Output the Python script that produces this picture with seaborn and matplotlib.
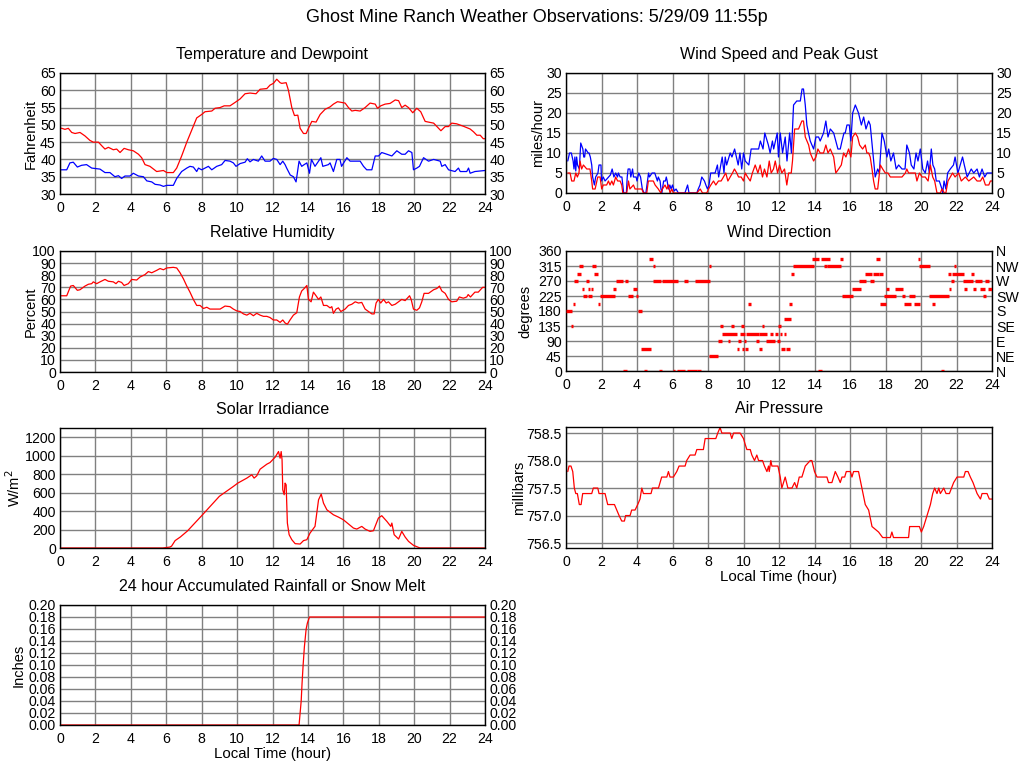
import numpy as np
import matplotlib
matplotlib.use("Agg")
import matplotlib.pyplot as plt
import seaborn as sns
from matplotlib.ticker import FormatStrFormatter

# ---------------- data ----------------
temp_t = [0.0, 0.1, 0.28, 0.47, 0.66, 0.85, 1.13, 1.41, 1.69, 1.88, 2.17, 2.35, 2.54, 2.73, 3.01, 3.2, 3.39, 3.62, 3.86,
          4.14, 4.43, 4.61, 4.8, 5.08, 5.46, 5.84, 6.03, 6.4, 6.59, 6.87, 7.16, 7.44, 7.72, 8.0, 8.19, 8.57, 8.76, 9.04,
          9.27, 9.6, 9.89, 10.17, 10.45, 10.73, 11.07, 11.3, 11.68, 11.86, 12.05, 12.24, 12.43, 12.52, 12.77, 12.9,
          13.09, 13.24, 13.43, 13.56, 13.75, 13.9, 14.03, 14.22, 14.46, 14.69, 14.97, 15.25, 15.44, 15.67, 16.1, 16.29,
          16.48, 16.67, 16.95, 17.23, 17.51, 17.8, 17.93, 18.11, 18.36, 18.64, 18.93, 19.12, 19.3, 19.49, 19.68, 19.92,
          20.15, 20.37, 20.62, 20.9, 21.1, 21.51, 21.75, 21.94, 22.12, 22.4, 22.78, 23.16, 23.35, 23.54, 23.73, 23.9, 24.0]
temp_v = [49, 49, 48.7, 49, 47.8, 47.5, 47.8, 46.8, 45.5, 45, 45, 44, 43, 43.5, 42.8, 43, 42, 43.2, 42.8,
          42.5, 41.5, 40.5, 38.5, 38, 36.5, 36.8, 36.2, 36.2, 37.5, 41, 45, 48.5, 52, 53, 53.8, 54, 54.8, 55,
          55.5, 55.5, 56.5, 57.5, 59, 59.2, 59, 60.3, 60.5, 61.5, 62, 63.2, 62.2, 62, 62.2, 60,
          55, 52.7, 52.8, 49, 47.5, 47.5, 49, 51, 50.8, 53, 54.5, 55.2, 56, 56.7, 56.3, 55,
          54, 54.2, 54, 55, 56.3, 56, 54.8, 55.5, 56, 56.2, 57.2, 57, 55, 55.7, 55, 53.5,
          54.8, 53.8, 51, 50.7, 50.5, 48.3, 49.5, 49.5, 50.5, 50.3, 49.6, 48.8, 48, 47, 47, 46, 46]

dew_t = [0.0, 0.38, 0.56, 0.75, 0.98, 1.22, 1.5, 1.79, 2.26, 2.54, 2.82, 3.1, 3.3, 3.48, 3.67, 3.95, 4.14, 4.43, 4.71,
         4.9, 5.18, 5.37, 5.65, 5.84, 6.03, 6.4, 6.59, 6.87, 7.16, 7.34, 7.53, 7.72, 7.82, 8.0, 8.19, 8.38, 8.57, 8.85,
         9.13, 9.32, 9.6, 9.79, 9.94, 10.17, 10.45, 10.58, 10.73, 10.92, 11.2, 11.39, 11.58, 11.86, 12.05, 12.24,
         12.43, 12.58, 12.71, 12.8, 13.0, 13.18, 13.33, 13.5, 13.65, 13.79, 13.94, 14.09, 14.2, 14.4, 14.6, 14.73,
         14.84, 15.16, 15.25, 15.44, 15.63, 15.81, 15.9, 16.2, 16.38, 16.95, 17.14, 17.32, 17.61, 17.8, 17.99, 18.17,
         18.46, 18.74, 19.02, 19.3, 19.49, 19.68, 19.87, 19.96, 20.15, 20.3, 20.53, 20.81, 21.1, 21.47, 21.56, 21.75,
         21.94, 22.31, 22.5, 22.6, 22.97, 23.07, 23.16, 23.43, 24.0]
dew_v = [37, 37, 39, 39.2, 37.8, 38.3, 38.5, 37.5, 37.2, 36.2, 36.2, 35, 35.3, 34.5, 35.2, 35.2, 36, 35.2, 35,
         33.8, 33.5, 32.8, 32.6, 32.2, 32.5, 32.5, 34.5, 36.5, 37.5, 38, 37.8, 36.5, 37.5, 37, 37.5, 38, 37, 38,
         38.5, 39.7, 39.5, 39, 38, 38.8, 39.2, 40.2, 39.3, 40, 39.5, 41, 39.5, 39.5, 40.3, 40,
         38.5, 39.5, 38.5, 37.5, 35.5, 35, 33.5, 39.5, 38, 38.5, 39, 36, 40, 38, 39.5, 40.5,
         38, 38.5, 39, 36.5, 40, 40, 38, 40.5, 39.5, 39.5, 38, 37, 37, 41, 41, 42,
         41.5, 41, 42.5, 41.5, 41.5, 42.5, 42, 37, 37.5, 38, 40.5, 39.5, 40, 39.5, 38, 38.5,
         37, 36.5, 37.5, 36.5, 36.5, 37.5, 36, 36.5, 36.8]

gust_t = [0.1, 0.2, 0.3, 0.4, 0.45, 0.5, 0.55, 0.6, 0.65, 0.75, 0.83, 0.95, 1.0, 1.05, 1.1, 1.25, 1.3, 1.37, 1.45, 1.5,
          1.6, 1.67, 1.8, 1.86, 1.97, 2.0, 2.1, 2.2, 2.4, 2.5, 2.6, 2.7, 2.8, 2.9, 2.95, 3.05, 3.15, 3.25, 3.4, 3.45,
          3.5, 3.6, 3.65, 3.75, 3.8, 3.95, 4.0, 4.1, 4.2, 4.3, 4.4, 4.5, 4.65, 4.7, 4.85, 5.0, 5.15, 5.2, 5.3, 5.35,
          5.4, 5.5, 5.6, 5.65, 5.7, 5.77, 5.85, 5.92, 6.0, 6.1, 6.2, 6.33, 6.7, 6.85, 6.93, 7.37, 7.45, 7.55, 7.65,
          7.8, 7.88, 7.97, 8.06, 8.15, 8.4, 8.53, 8.6, 8.72, 8.8, 8.9, 8.97, 9.05, 9.25, 9.35, 9.5, 9.6, 9.7, 9.8,
          9.9, 10.0, 10.1, 10.3, 10.43, 10.85, 10.95, 11.1, 11.2, 11.4, 11.5, 11.63, 11.7, 11.9, 11.97, 12.07, 12.2,
          12.35, 12.45, 12.6, 12.7, 12.82, 13.0, 13.2, 13.3, 13.38, 13.48, 13.57, 13.66, 13.76, 13.95, 14.08, 14.23,
          14.32, 14.51, 14.64, 14.76, 14.89, 15.08, 15.2, 15.32, 15.45, 15.55, 15.66, 15.73, 15.83, 15.96, 16.05,
          16.15, 16.3, 16.48, 16.64, 16.77, 16.9, 17.05, 17.14, 17.27, 17.42, 17.56, 17.65, 17.8, 17.93, 18.08, 18.18,
          18.3, 18.45, 18.6, 18.74, 18.93, 19.1, 19.2, 19.35, 19.45, 19.6, 19.72, 19.83, 19.96, 20.1, 20.24, 20.37,
          20.47, 20.58, 20.67, 20.77, 20.86, 21.03, 21.18, 21.22, 21.3, 21.4, 21.5, 21.65, 21.83, 21.92, 22.08, 22.34,
          22.44, 22.6, 22.83, 22.97, 23.16, 23.29, 23.44, 23.59, 23.72, 24.0]
gust_v = [8, 10, 10, 8, 6, 9, 5.5, 9, 7, 6, 12.5, 11, 9, 9, 11, 10, 10, 9, 7, 4,
          2, 4, 5, 7, 7, 3, 4, 3, 4, 4.5, 6, 4, 5, 4, 5, 4, 4, 0, 0, 4,
          6, 6, 4, 6, 4, 4, 3, 5, 4, 1, 0, 0, 5, 4, 5, 5, 3, 4, 3, 1,
          0, 3, 3, 4, 3, 1, 2, 1, 2, 0.5, 1, 0, 0, 2, 0, 0, 1, 2, 4,
          3, 2, 1, 2, 5, 5, 7, 4, 7, 9, 5, 9, 7, 10, 9, 11, 9, 7, 10,
          6, 10, 8, 7, 11, 11, 13, 11, 15, 12, 10, 13, 11, 15, 9, 15, 10,
          14, 8, 15, 10, 22, 23, 23, 26, 26, 22, 17, 15, 13, 11, 14, 14,
          13, 15, 18, 14, 16, 15, 13, 11, 11, 13, 15, 15, 17, 17, 13,
          20, 22, 20, 17, 19, 16, 18, 17, 11, 4, 6, 5, 15, 13, 9, 11,
          8, 10, 6, 7, 6, 6, 12, 10, 7, 6, 10, 8, 11, 6, 5, 8,
          5, 11, 7, 6, 3, 3, 1, 0, 3, 1, 5, 6, 7, 9, 5, 9,
          7, 4, 6, 5, 6, 4, 6, 4, 5, 5]

speed_t = [0.1, 0.23, 0.32, 0.45, 0.55, 0.64, 0.73, 0.79, 0.88, 0.98, 1.17, 1.35, 1.45, 1.5, 1.64, 1.69, 1.79, 1.92,
           2.01, 2.1, 2.29, 2.39, 2.48, 2.58, 2.67, 2.8, 2.91, 3.05, 3.14, 3.2, 3.42, 3.52, 3.6, 3.8, 3.89, 4.27,
           4.36, 4.55, 4.64, 4.92, 5.02, 5.2, 5.34, 5.43, 5.58, 5.68, 5.77, 5.86, 5.96, 6.05, 7.37, 7.56, 7.69,
           7.93, 8.03, 8.16, 8.31, 8.44, 8.59, 8.74, 8.87, 9.0, 9.12, 9.25, 9.38, 9.49, 9.62, 9.72, 9.87, 10.0,
           10.1, 10.23, 10.38, 10.5, 10.66, 10.81, 10.94, 11.07, 11.18, 11.32, 11.45, 11.56, 11.69, 11.79, 11.92,
           12.03, 12.16, 12.31, 12.44, 12.54, 12.69, 12.76, 12.88, 13.1, 13.29, 13.38, 13.48, 13.67, 13.76, 13.95,
           14.08, 14.19, 14.32, 14.51, 14.64, 14.76, 14.89, 15.08, 15.2, 15.36, 15.51, 15.64, 15.77, 15.92, 16.05,
           16.15, 16.3, 16.43, 16.54, 16.71, 16.86, 16.95, 17.05, 17.14, 17.24, 17.33, 17.42, 17.56, 17.61, 17.71,
           17.84, 17.99, 18.14, 18.27, 18.55, 18.93, 19.12, 19.2, 19.3, 19.68, 19.77, 19.91, 20.06, 20.24, 20.4,
           20.53, 20.66, 20.77, 20.9, 21.09, 21.18, 21.32, 21.4, 21.52, 21.65, 21.78, 21.92, 22.12, 22.27, 22.5,
           22.69, 22.97, 23.16, 23.35, 23.48, 23.63, 23.82, 23.91, 24.0]
speed_v = [5, 5, 3, 3, 5, 4, 5, 8, 6, 7, 6, 6, 3, 1, 1, 2, 4, 4,
           1, 2, 2, 3, 2, 3, 2, 4, 3, 3, 2, 0, 0, 3, 1, 2, 1, 1,
           0, 0, 3, 3, 2, 1, 0, 1, 2, 1, 2, 0, 1, 0, 0, 1, 0,
           0, 1, 2, 3, 2, 3, 3, 4, 5, 3, 4, 5, 6, 5, 4, 4, 3,
           5, 4, 3, 5, 7, 5, 7, 4, 6, 4, 8, 5, 6, 8, 5,
           7, 5, 6, 2, 5, 5, 8, 16, 16, 18, 18, 14, 12, 10, 8,
           9, 11, 10, 10, 12, 10, 11, 9, 5, 6, 7, 10, 9, 11, 9,
           14, 15, 14, 12, 11, 12, 10, 10, 9, 6, 3, 1, 1, 3, 7,
           6, 5, 5, 4, 4, 4, 5, 6, 5, 5, 3, 5, 4, 4, 3,
           7, 4, 3, 0, 0, 1, 0, 0, 3, 4, 5, 4, 5, 3, 4,
           3, 4, 3, 3, 4, 2, 2, 3, 3]

rh_t = [0.0, 0.1, 0.38, 0.6, 0.75, 0.98, 1.13, 1.41, 1.6, 1.79, 1.88, 2.07, 2.26, 2.54, 2.73, 3.01, 3.16, 3.3, 3.48,
        3.62, 3.86, 4.05, 4.33, 4.52, 4.8, 4.99, 5.18, 5.46, 5.65, 5.84, 6.03, 6.4, 6.59, 6.78, 6.97, 7.16, 7.34,
        7.53, 7.72, 7.91, 8.1, 8.29, 8.47, 8.66, 9.04, 9.32, 9.6, 9.79, 9.98, 10.17, 10.36, 10.55, 10.73, 10.92,
        11.11, 11.3, 11.49, 11.68, 11.86, 12.05, 12.24, 12.43, 12.58, 12.71, 12.84, 12.99, 13.18, 13.37, 13.52,
        13.65, 13.79, 13.94, 14.03, 14.18, 14.31, 14.46, 14.6, 14.73, 14.88, 15.07, 15.25, 15.35, 15.44, 15.59,
        15.72, 15.86, 16.1, 16.29, 16.48, 16.67, 16.86, 17.04, 17.23, 17.42, 17.61, 17.74, 17.85, 17.98, 18.11,
        18.27, 18.42, 18.55, 18.74, 18.93, 19.12, 19.3, 19.49, 19.74, 19.83, 19.96, 20.15, 20.3, 20.43, 20.56,
        20.81, 21.1, 21.28, 21.43, 21.56, 21.75, 21.94, 22.12, 22.4, 22.55, 22.78, 22.97, 23.05, 23.18, 23.43,
        23.62, 23.87, 24.0]
rh_v = [63, 63, 63, 71, 71.5, 67.5, 68, 71, 72.5, 73, 74.5, 73, 74.5, 76.5, 75, 74.5, 73, 75, 74,
        71.5, 73, 76.5, 76, 78.5, 80.5, 83, 82, 84, 85.5, 84.5, 86, 86.5, 86, 82, 77, 71, 66,
        60, 55, 55, 52.5, 53.5, 52, 52, 52, 54.5, 54, 52, 50.5, 50, 48, 47, 48.5, 46.5,
        48.5, 47, 46, 46, 45, 43, 43, 41, 43, 40.5, 39.5, 43, 47, 49, 62,
        67, 69, 71.5, 60, 58, 66, 63, 60, 62, 55, 55, 53, 54, 48.5, 52,
        53, 50, 52, 55, 56, 58, 57, 57.5, 52, 50, 48, 48, 57, 60, 57,
        60, 57, 58, 55, 56, 58, 60, 59, 63, 60, 52, 51, 53, 58, 65,
        65, 68, 69, 71, 67, 65, 60, 58, 58.5, 62, 61, 62, 64, 62, 66,
        66, 70, 70]

# wind direction runs: start hour, end hour, direction (degrees)
dir_t0 = [0.0, 0.26, 0.38, 0.45, 0.6, 0.75, 0.88, 0.94, 1.1, 1.22, 1.39, 1.26, 1.45, 1.6, 1.79, 1.92, 2.67, 2.82,
          3.2, 3.33, 3.48, 3.76, 3.93, 4.04, 4.21, 4.42, 4.7, 4.89, 4.92, 5.26, 5.39, 6.0, 6.28, 6.67, 6.84, 7.24,
          7.4, 8.03, 8.06, 8.55, 8.68, 8.78, 9.1, 9.29, 9.62, 9.68, 9.85, 9.81, 9.9, 10.06, 10.0, 10.28, 10.15,
          10.71, 10.85, 10.88, 11.03, 11.26, 11.5, 11.79, 11.88, 11.92, 12.03, 12.12, 12.26, 12.26, 12.39, 12.59,
          12.67, 12.78, 13.85, 14.17, 14.38, 14.51, 14.7, 15.41, 15.55, 16.11, 16.48, 16.82, 17.14, 17.27, 17.48,
          17.61, 17.71, 17.89, 18.03, 18.55, 18.93, 19.02, 19.34, 19.59, 19.81, 19.91, 20.43, 20.62, 21.13, 21.56,
          21.5, 21.69, 21.75, 21.84, 22.35, 22.84, 22.41, 22.93, 23.06, 23.35, 23.5, 23.6, 23.78]
dir_t1 = [0.36, 0.41, 0.5, 0.7, 0.85, 0.94, 1.03, 1.17, 1.3, 1.35, 1.5, 1.45, 1.67, 1.82, 1.94, 2.76, 2.84, 3.23,
          3.42, 3.52, 3.8, 4.02, 4.08, 4.27, 4.77, 4.59, 4.92, 4.98, 5.34, 5.43, 6.33, 6.15, 6.7, 6.9, 7.37, 8.12,
          7.6, 8.16, 8.59, 8.78, 8.82, 9.62, 9.25, 9.44, 9.77, 9.87, 10.0, 10.1, 10.04, 10.24, 10.15, 10.41, 10.85,
          10.88, 11.03, 11.32, 11.17, 11.79, 11.64, 11.92, 12.01, 12.1, 12.16, 12.31, 12.39, 12.67, 12.61, 12.76,
          12.82, 13.95, 14.23, 14.42, 14.85, 14.7, 15.49, 15.58, 16.15, 16.62, 16.9, 17.24, 17.33, 17.61, 17.67,
          17.84, 18.03, 18.59, 18.21, 18.97, 19.12, 19.45, 19.68, 19.96, 19.96, 20.53, 21.56, 20.75, 21.28, 21.71,
          21.69, 21.84, 22.41, 21.99, 22.93, 22.97, 22.59, 23.12, 23.44, 23.6, 23.63, 23.82, 24.0]
dir_deg = [180, 135, 202.5, 270, 292.5, 315, 247.5, 225, 270, 247.5, 247.5, 225, 315, 292.5, 202.5, 225, 247.5, 270,
           0, 270, 225, 247.5, 225, 180, 67.5, 0, 337.5, 315, 270, 0, 270, 0, 0, 270, 0, 270,
           0, 315, 45, 90, 135, 112.5, 90, 135, 67.5, 90, 135, 112.5, 67.5, 67.5, 90, 202.5, 112.5,
           90, 67.5, 112.5, 135, 90, 112.5, 112.5, 90, 135, 112.5, 67.5, 112.5, 157.5, 67.5, 202.5,
           292.5, 315, 337.5, 0, 337.5, 315, 315, 337.5, 225, 247.5, 270, 292.5, 270, 292.5, 337.5,
           292.5, 202.5, 225, 247.5, 247.5, 225, 202.5, 225, 202.5, 337.5, 315, 225, 202.5, 0, 247.5,
           292.5, 270, 292.5, 315, 270, 292.5, 247.5, 247.5, 270, 247.5, 225, 270, 247.5]

solar_t = [0.0, 5.8, 6.2, 6.3, 6.5, 6.8, 7.2, 8.0, 9.0, 9.79, 10.04, 10.55, 10.83, 10.96, 11.11, 11.3, 11.68, 11.86,
           12.15, 12.34, 12.43, 12.49, 12.54, 12.58, 12.66, 12.71, 12.77, 12.84, 12.94, 13.09, 13.28, 13.56, 13.75,
           13.94, 14.12, 14.4, 14.6, 14.75, 14.88, 15.07, 15.44, 15.72, 16.0, 16.57, 16.76, 17.04, 17.23, 17.51,
           17.7, 17.98, 18.17, 18.46, 18.68, 18.74, 18.87, 19.12, 19.3, 19.49, 19.68, 19.96, 20.24, 20.34, 24.0]
solar_v = [0, 0, 10, 20, 80, 120, 185, 350, 560, 667, 703, 757, 793, 757, 782, 854, 908, 926,
           984, 1045, 973, 1045, 955, 630, 577, 703, 685, 270, 144, 90, 47, 43, 80,
           90, 162, 234, 522, 584, 486, 414, 360, 335, 306, 216, 205, 234, 205, 180,
           187, 324, 350, 288, 234, 270, 144, 97, 180, 119, 72, 29, 7, 0, 0]

pres_t = [0.1, 0.17, 0.28, 0.38, 0.47, 0.55, 0.64, 0.75, 0.85, 0.94, 1.45, 1.54, 1.79, 1.86, 2.2, 2.35, 2.73, 2.86, 2.99,
          3.14, 3.29, 3.36, 3.61, 3.7, 3.89, 4.04, 4.17, 4.27, 4.36, 4.79, 4.87, 5.21, 5.39, 5.68, 5.77, 5.86, 6.05,
          6.24, 6.37, 6.71, 6.8, 6.99, 7.27, 7.37, 7.74, 7.84, 8.44, 8.55, 8.68, 8.78, 9.25, 9.34, 9.44, 9.81, 10.0,
          10.09, 10.19, 10.38, 10.47, 10.62, 10.75, 10.85, 11.07, 11.18, 11.32, 11.41, 11.45, 11.54, 11.6, 11.94,
          12.07, 12.16, 12.35, 12.5, 12.63, 12.73, 12.88, 13.0, 13.14, 13.29, 13.48, 13.76, 13.85, 14.0, 14.14, 14.7,
          14.79, 14.98, 15.17, 15.32, 15.45, 15.55, 15.7, 15.79, 16.02, 16.11, 16.2, 16.48, 16.67, 16.86, 17.05, 17.24,
          17.61, 17.84, 18.27, 18.36, 18.45, 19.3, 19.36, 19.91, 20.02, 20.15, 20.34, 20.53, 20.66, 20.77, 20.9, 21.0,
          21.09, 21.28, 21.41, 21.6, 21.84, 22.03, 22.41, 22.5, 22.65, 22.78, 22.93, 23.16, 23.35, 23.44, 23.72, 23.85,
          24.0]
pres_v = [757.8, 757.9, 757.9, 757.8, 757.5, 757.4, 757.4, 757.2, 757.2, 757.4, 757.4, 757.5, 757.5, 757.4, 757.4,
          757.2, 757.2, 757.1, 757.0, 756.9, 756.9, 757.0, 757.0, 757.1, 757.1, 757.2, 757.3, 757.5, 757.4, 757.4,
          757.5, 757.5, 757.7, 757.7, 757.8, 757.7, 757.7, 757.8, 757.9, 757.9, 758.0, 758.1, 758.1, 758.2, 758.2,
          758.4, 758.4, 758.5, 758.6, 758.5, 758.5, 758.4, 758.5, 758.5, 758.4, 758.3, 758.2, 758.2, 758.1, 758.0,
          758.1, 758.0, 758.0, 757.9, 757.8, 757.9, 757.8, 758.0, 757.9, 757.9, 757.7, 757.5, 757.7, 757.5, 757.5,
          757.5, 757.6, 757.5, 757.7, 757.7, 757.9, 758.0, 758.0, 757.8, 757.7, 757.7, 757.6, 757.6, 757.8, 757.7,
          757.6, 757.7, 757.7, 757.8, 757.8, 757.7, 757.8, 757.8, 757.5, 757.2, 757.1, 756.8, 756.7, 756.6, 756.6,
          756.7, 756.6, 756.6, 756.8, 756.8, 756.7, 756.8, 757.0, 757.2, 757.4, 757.5, 757.4, 757.5, 757.4, 757.5,
          757.4, 757.4, 757.6, 757.7, 757.7, 757.8, 757.8, 757.7, 757.6, 757.4, 757.3, 757.4, 757.4, 757.3, 757.3]

rain_t = [0.0, 13.5, 13.56, 13.62, 13.67, 13.73, 13.8, 13.9, 13.97, 14.09, 24.0]
rain_v = [0.0, 0.0, 0.02, 0.04, 0.07, 0.10, 0.13, 0.16, 0.17, 0.18, 0.18]

compass = ["N", "NE", "E", "SE", "S", "SW", "W", "NW", "N"]
hour_ticks = list(range(0, 25, 2))

# ---------------- style ----------------
sns.set_theme(style="white")
plt.rcParams['font.family'] = ['Liberation Sans', 'DejaVu Sans']
plt.rcParams['axes.linewidth'] = 1.0
plt.rcParams['axes.edgecolor'] = 'black'

W, H = 1024, 768
fig = plt.figure(figsize=(W / 100, H / 100), dpi=100)
fig.patch.set_facecolor('white')


def rect(l, t, r, b):
    return [l / W, 1 - b / H, (r - l) / W, (b - t) / H]


def style(ax, title, ylabel, yticks, ylim, label_x, right=True, fmt=None, xlabel=None):
    ax.set_xlim(0, 24)
    ax.set_xticks(hour_ticks)
    ax.set_ylim(*ylim)
    ax.set_yticks(yticks)
    if fmt:
        ax.yaxis.set_major_formatter(FormatStrFormatter(fmt))
    ax.grid(True, color='#808080', linewidth=1.0)
    ax.set_axisbelow(True)
    ax.tick_params(length=0, labelsize=10.2, colors='black')
    ax.tick_params(axis='y', pad=3, labelright=right)
    ax.tick_params(axis='x', pad=5)
    ax.set_title(title, fontsize=11.5, pad=10, color='black')
    ax.set_ylabel(ylabel, fontsize=10.5, color='black')
    ax.yaxis.set_label_coords(label_x, 0.5)
    ax.set_xlabel(xlabel if xlabel else "", fontsize=10.8, labelpad=1, color='black')
    for s in ax.spines.values():
        s.set_color('black')
        s.set_linewidth(1.0)


lw = 0.9

# Temperature
ax1 = fig.add_axes(rect(60, 73, 485, 194))
sns.lineplot(x=temp_t, y=temp_v, ax=ax1, color='#ff0000', linewidth=lw, estimator=None, sort=False)
sns.lineplot(x=dew_t, y=dew_v, ax=ax1, color='#0000ff', linewidth=lw, estimator=None, sort=False)
style(ax1, "Temperature and Dewpoint", "Fahrenheit", range(30, 66, 5), (30, 65), -0.052)

# Wind speed
ax2 = fig.add_axes(rect(566, 73, 992, 193))
sns.lineplot(x=gust_t, y=gust_v, ax=ax2, color='#0000ff', linewidth=lw, estimator=None, sort=False)
sns.lineplot(x=speed_t, y=speed_v, ax=ax2, color='#ff0000', linewidth=lw, estimator=None, sort=False)
style(ax2, "Wind Speed and Peak Gust", "miles/hour", range(0, 31, 5), (0, 30), -0.05)

# Relative humidity
ax3 = fig.add_axes(rect(60, 251, 485, 372))
sns.lineplot(x=rh_t, y=rh_v, ax=ax3, color='#ff0000', linewidth=lw, estimator=None, sort=False)
style(ax3, "Relative Humidity", "Percent", range(0, 101, 10), (0, 100), -0.052)

# Wind direction
ax4 = fig.add_axes(rect(566, 251, 992, 371))
t1_draw = [max(b, a + 0.15) for a, b in zip(dir_t0, dir_t1)]
ax4.hlines(dir_deg, dir_t0, t1_draw, colors='#ff0000', linewidth=2.4, zorder=3)
style(ax4, "Wind Direction", "degrees", range(0, 361, 45), (0, 360), -0.08, right=False)
ax4b = ax4.twinx()
ax4b.set_ylim(0, 360)
ax4b.set_yticks(range(0, 361, 45))
ax4b.set_yticklabels(compass)
ax4b.tick_params(length=0, pad=3, labelsize=10.2, colors='black')
ax4b.grid(False)
for s in ax4b.spines.values():
    s.set_visible(False)

# Solar
ax5 = fig.add_axes(rect(60, 428, 485, 548))
sns.lineplot(x=solar_t, y=solar_v, ax=ax5, color='#ff0000', linewidth=lw, estimator=None, sort=False)
style(ax5, "Solar Irradiance", "W/m$^2$", range(0, 1201, 200), (0, 1300), -0.088, right=False)

# Pressure
ax6 = fig.add_axes(rect(566, 427, 992, 548))
sns.lineplot(x=pres_t, y=pres_v, ax=ax6, color='#ff0000', linewidth=lw, estimator=None, sort=False)
style(ax6, "Air Pressure", "millibars", [756.5, 757.0, 757.5, 758.0, 758.5], (756.41, 758.61), -0.094,
      right=False, fmt='%.1f', xlabel="Local Time (hour)")

# Rain
ax7 = fig.add_axes(rect(60, 605, 485, 725))
sns.lineplot(x=rain_t, y=rain_v, ax=ax7, color='#ff0000', linewidth=lw, estimator=None, sort=False)
style(ax7, "24 hour Accumulated Rainfall or Snow Melt", "Inches", np.round(np.arange(0, 0.201, 0.02), 2),
      (0, 0.2), -0.082, fmt='%.2f', xlabel="Local Time (hour)")

fig.text(537 / W, 1 - 18 / H, "Ghost Mine Ranch Weather Observations: 5/29/09 11:55p",
         ha='center', va='center', fontsize=13, color='black')

fig.savefig("out.png", dpi=100, facecolor='white')
